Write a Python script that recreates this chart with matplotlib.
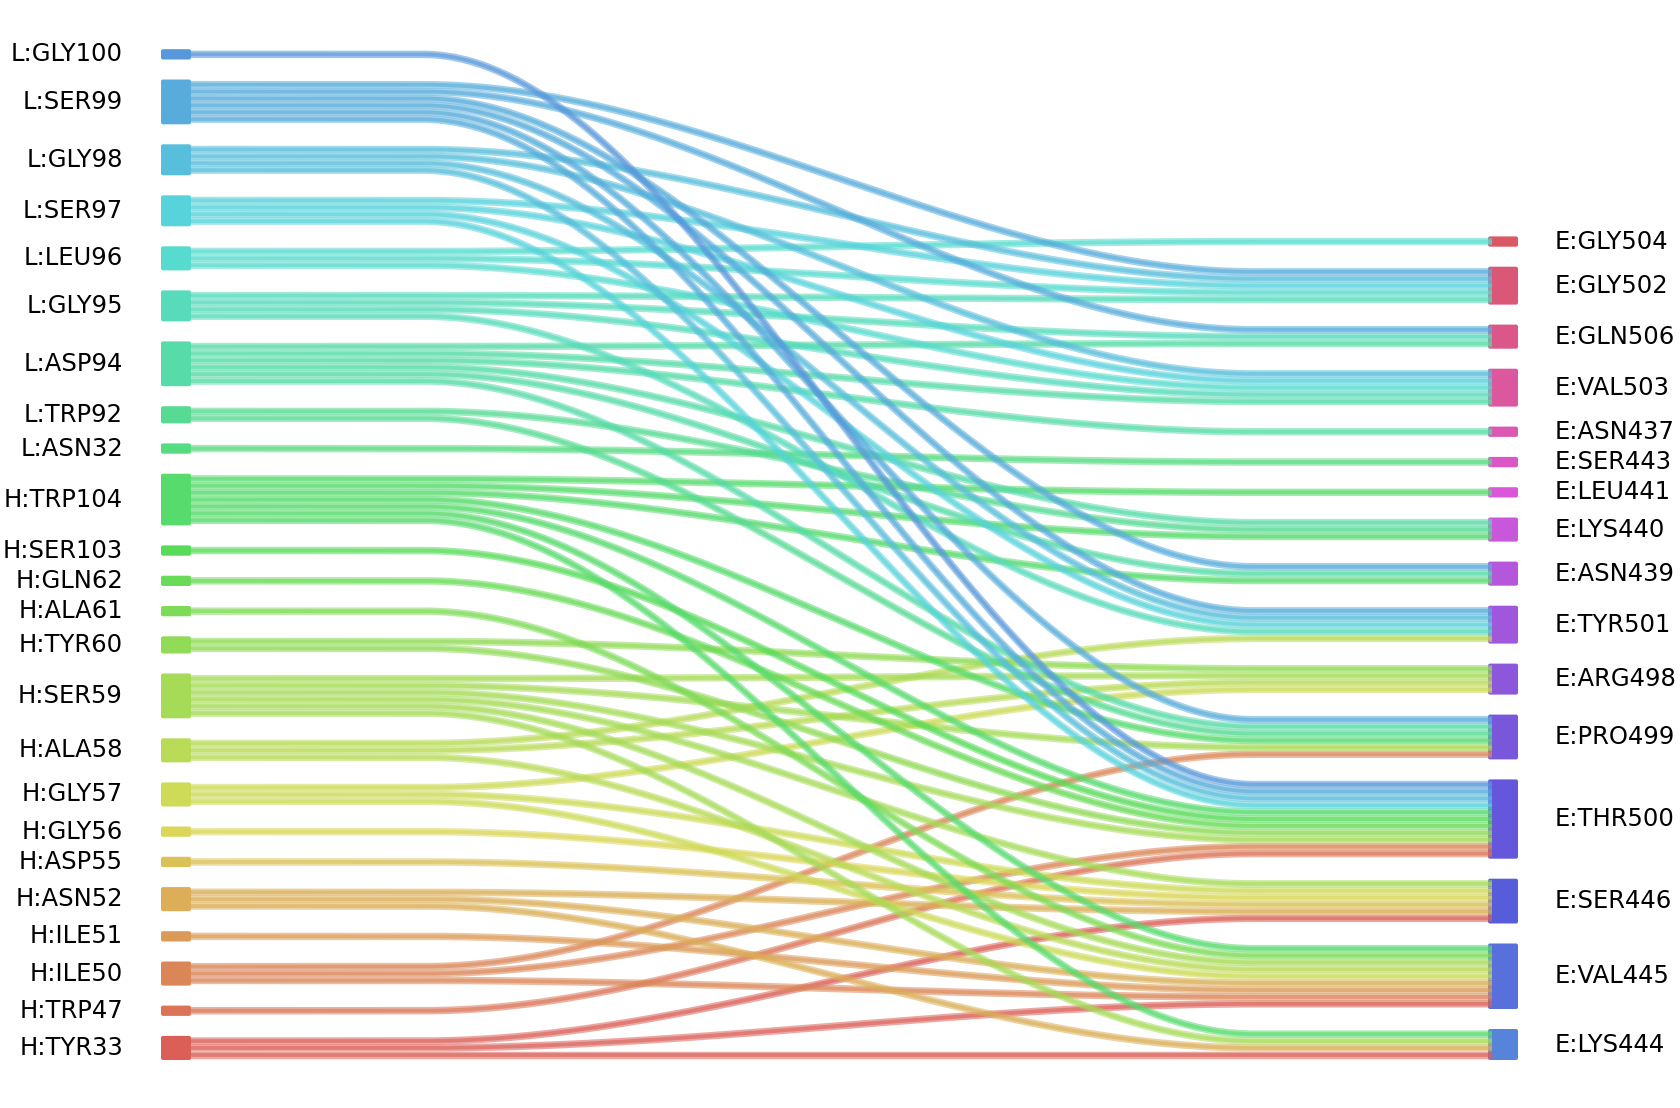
import numpy as np
import matplotlib
matplotlib.use("Agg")
import matplotlib.pyplot as plt
from matplotlib.patches import FancyBboxPatch
import seaborn as sns

# residues, top to bottom
left_nodes = ["L:GLY100", "L:SER99", "L:GLY98", "L:SER97", "L:LEU96", "L:GLY95",
              "L:ASP94", "L:TRP92", "L:ASN32", "H:TRP104", "H:SER103", "H:GLN62",
              "H:ALA61", "H:TYR60", "H:SER59", "H:ALA58", "H:GLY57", "H:GLY56",
              "H:ASP55", "H:ASN52", "H:ILE51", "H:ILE50", "H:TRP47", "H:TYR33"]
right_nodes = ["E:GLY504", "E:GLY502", "E:GLN506", "E:VAL503", "E:ASN437", "E:SER443",
               "E:LEU441", "E:LYS440", "E:ASN439", "E:TYR501", "E:ARG498", "E:PRO499",
               "E:THR500", "E:SER446", "E:VAL445", "E:LYS444"]

# contacts (one entry per contact)
link_src = (["L:GLY100"]
            + ["L:SER99"] * 6
            + ["L:GLY98"] * 4
            + ["L:SER97"] * 4
            + ["L:LEU96"] * 3
            + ["L:GLY95"] * 4
            + ["L:ASP94"] * 6
            + ["L:TRP92"] * 2
            + ["L:ASN32"]
            + ["H:TRP104"] * 7
            + ["H:SER103", "H:GLN62", "H:ALA61"]
            + ["H:TYR60"] * 2
            + ["H:SER59"] * 6
            + ["H:ALA58"] * 3
            + ["H:GLY57"] * 3
            + ["H:GLY56", "H:ASP55"]
            + ["H:ASN52"] * 3
            + ["H:ILE51"]
            + ["H:ILE50"] * 3
            + ["H:TRP47"]
            + ["H:TYR33"] * 3)
link_dst = (["E:THR500"]
            + ["E:GLY502", "E:GLN506", "E:ASN439", "E:TYR501", "E:PRO499", "E:THR500"]
            + ["E:GLY502", "E:VAL503", "E:TYR501", "E:THR500"]
            + ["E:GLY502", "E:VAL503", "E:TYR501", "E:THR500"]
            + ["E:GLY504", "E:GLY502", "E:VAL503"]
            + ["E:GLY502", "E:GLN506", "E:VAL503", "E:TYR501"]
            + ["E:GLN506", "E:VAL503", "E:ASN437", "E:LYS440", "E:ASN439", "E:PRO499"]
            + ["E:LYS440", "E:PRO499"]
            + ["E:SER443"]
            + ["E:LEU441", "E:LYS440", "E:ASN439", "E:PRO499", "E:THR500", "E:VAL445", "E:LYS444"]
            + ["E:THR500", "E:THR500", "E:VAL445"]
            + ["E:ARG498", "E:THR500"]
            + ["E:ARG498", "E:PRO499", "E:THR500", "E:SER446", "E:VAL445", "E:LYS444"]
            + ["E:TYR501", "E:ARG498", "E:VAL445"]
            + ["E:ARG498", "E:SER446", "E:VAL445"]
            + ["E:SER446", "E:SER446"]
            + ["E:SER446", "E:VAL445", "E:LYS444"]
            + ["E:VAL445"]
            + ["E:PRO499", "E:THR500", "E:VAL445"]
            + ["E:THR500"]
            + ["E:SER446", "E:VAL445", "E:LYS444"])

# layout (pixels)
W, H = 1680, 1108
U = 6.9          # height of one contact
PAD = 3.4
GAP = 20
Y_BOTTOM = 1060
XL0, XL1 = 161, 191
XR0, XR1 = 1488, 1518
CURVE0, CURVE1 = 423, 1254

pal = sns.color_palette("hls", len(left_nodes) + len(right_nodes))
colors = {}
for i, n in enumerate(left_nodes[::-1]):
    colors[n] = pal[i]
for i, n in enumerate(right_nodes[::-1]):
    colors[n] = pal[len(left_nodes) + i]

def stack(names):
    counts = {n: 0 for n in names}
    for s, d in zip(link_src, link_dst):
        if s in counts:
            counts[s] += 1
        if d in counts:
            counts[d] += 1
    tops = {}
    y = Y_BOTTOM
    for n in reversed(names):
        h = counts[n] * U + PAD
        tops[n] = y - h
        y = y - h - GAP
    return counts, tops

lcount, ltop = stack(left_nodes)
rcount, rtop = stack(right_nodes)

lpos = {n: i for i, n in enumerate(left_nodes)}
rpos = {n: i for i, n in enumerate(right_nodes)}
idx = list(range(len(link_src)))

# slot of each link at left (ordered by target) and right (ordered by source)
yl = {}
for n in left_nodes:
    mine = sorted([k for k in idx if link_src[k] == n], key=lambda k: rpos[link_dst[k]])
    for j, k in enumerate(mine):
        yl[k] = ltop[n] + PAD / 2 + (j + 0.5) * U
yr = {}
for n in right_nodes:
    mine = sorted([k for k in idx if link_dst[k] == n], key=lambda k: lpos[link_src[k]])
    for j, k in enumerate(mine):
        yr[k] = rtop[n] + PAD / 2 + (j + 0.5) * U

fig = plt.figure(figsize=(W / 100, H / 100), dpi=100)
ax = fig.add_axes([0, 0, 1, 1])
ax.set_xlim(0, W)
ax.set_ylim(H, 0)
ax.axis("off")

xs = np.linspace(XL1 - 3, XR0 + 4, 400)
t = np.clip((xs - CURVE0) / (CURVE1 - CURVE0), 0, 1)
s = t * t * (3 - 2 * t)
lw = U * 0.72

# draw from bottom to top so the blue ones lie on top
for k in sorted(idx, key=lambda k: -lpos[link_src[k]]):
    c = colors[link_src[k]]
    ys = yl[k] + (yr[k] - yl[k]) * s
    ax.plot(xs, ys, color=c, lw=lw * 1.08, alpha=0.55, solid_capstyle="butt", zorder=3)
    ax.plot(xs, ys, color=c, lw=lw * 0.55, alpha=0.6, solid_capstyle="butt", zorder=3)

for n in left_nodes:
    h = lcount[n] * U + PAD
    ax.add_patch(FancyBboxPatch((XL0, ltop[n]), XL1 - XL0, h,
                                boxstyle="round,pad=0,rounding_size=2",
                                fc=colors[n], ec="none", zorder=2))
    ax.text(123, ltop[n] + h / 2, n, ha="right", va="center", fontsize=17.5)

for n in right_nodes:
    h = rcount[n] * U + PAD
    ax.add_patch(FancyBboxPatch((XR0, rtop[n]), XR1 - XR0, h,
                                boxstyle="round,pad=0,rounding_size=2",
                                fc=colors[n], ec="none", zorder=2))
    ax.text(1555, rtop[n] + h / 2, n, ha="left", va="center", fontsize=17.5)

fig.savefig("out.png", dpi=100)
